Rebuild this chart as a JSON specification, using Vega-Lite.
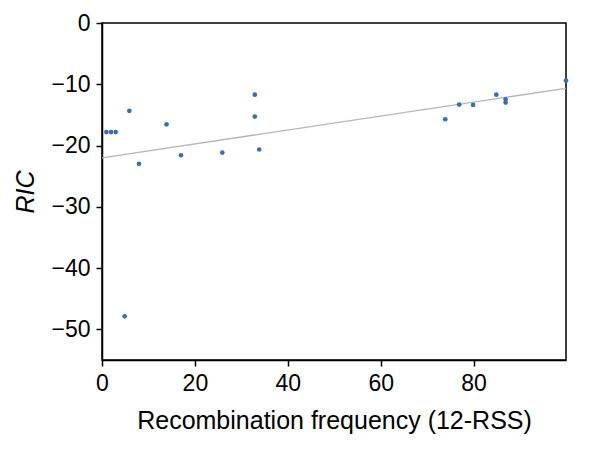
{
  "$schema": "https://vega.github.io/schema/vega-lite/v6.json",
  "width": 464,
  "height": 337,
  "autosize": {"type": "none"},
  "padding": {"left": 102, "top": 23, "right": 34, "bottom": 108},
  "background": "white",
  "config": {
    "view": {"stroke": "black", "strokeWidth": 1.5},
    "axis": {
      "labelFont": "Liberation Sans",
      "titleFont": "Liberation Sans",
      "labelFontSize": 23,
      "titleFontSize": 25,
      "labelColor": "black",
      "titleColor": "black",
      "titleFontWeight": "normal",
      "domainColor": "black",
      "domainWidth": 1.5,
      "tickColor": "black",
      "tickWidth": 1.5,
      "tickSize": 6,
      "labelFlush": false,
      "grid": false
    }
  },
  "datasets": {
    "pts": [
      {"x": 0.95, "y": -17.8},
      {"x": 1.94, "y": -17.8},
      {"x": 2.95, "y": -17.8},
      {"x": 5.89, "y": -14.34},
      {"x": 7.96, "y": -22.98},
      {"x": 4.88, "y": -47.87},
      {"x": 13.9, "y": -16.53},
      {"x": 17.0, "y": -21.58},
      {"x": 25.9, "y": -21.14},
      {"x": 32.9, "y": -11.69},
      {"x": 32.9, "y": -15.27},
      {"x": 33.85, "y": -20.65},
      {"x": 73.9, "y": -15.71},
      {"x": 76.9, "y": -13.32},
      {"x": 79.9, "y": -13.37},
      {"x": 84.9, "y": -11.69},
      {"x": 86.9, "y": -12.45},
      {"x": 86.9, "y": -12.99},
      {"x": 99.9, "y": -9.4}
    ],
    "fit": [
      {"x": 0, "y": -22.0},
      {"x": 99.9, "y": -10.66}
    ]
  },
  "layer": [
    {
      "data": {"name": "fit"},
      "mark": {"type": "line", "color": "#b5b5b5", "strokeWidth": 1.3, "clip": true},
      "encoding": {
        "x": {"field": "x", "type": "quantitative"},
        "y": {"field": "y", "type": "quantitative"}
      }
    },
    {
      "data": {"name": "pts"},
      "mark": {"type": "circle", "color": "#3a6fad", "opacity": 1, "size": 22},
      "encoding": {
        "x": {
          "field": "x",
          "type": "quantitative",
          "scale": {"domain": [0, 99.9], "nice": false, "zero": false},
          "axis": {"values": [0, 20, 40, 60, 80], "title": "Recombination frequency (12-RSS)", "labelPadding": 6, "titlePadding": 13}
        },
        "y": {
          "field": "y",
          "type": "quantitative",
          "scale": {"domain": [-55, 0], "nice": false},
          "axis": {"values": [0, -10, -20, -30, -40, -50], "title": "RIC", "titleFontStyle": "italic", "labelPadding": 6, "titlePadding": 12}
        }
      }
    }
  ]
}
